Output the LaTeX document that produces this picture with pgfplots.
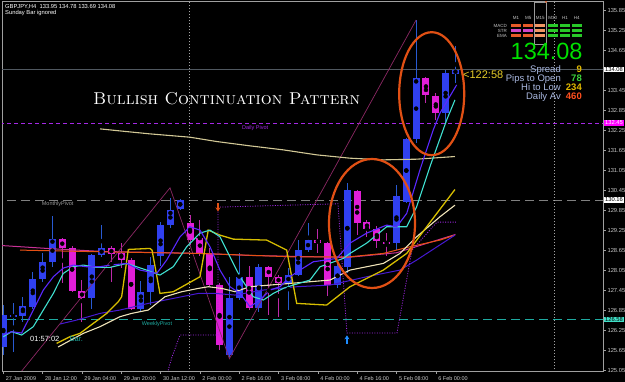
\documentclass[border=0pt]{standalone}
\usepackage{fontspec}
\usepackage{graphicx}
\usepackage{pgfplots}
\pgfplotsset{compat=1.18}
\usepackage{pgfplotstable}
\usetikzlibrary{arrows.meta}
\newfontfamily\mt{Liberation Sans}
\definecolor{bull}{RGB}{48,64,240}
\definecolor{bear}{RGB}{225,30,215}
\definecolor{bullw}{RGB}{40,90,210}
\definecolor{bearw}{RGB}{190,40,170}
\definecolor{maviolet}{RGB}{90,40,255}
\definecolor{macyan}{RGB}{64,224,208}
\definecolor{mayellow}{RGB}{215,190,0}
\definecolor{macream}{RGB}{240,228,185}
\definecolor{makhaki}{RGB}{210,200,150}
\definecolor{maindigo}{RGB}{70,25,210}
\definecolor{maorange}{RGB}{230,80,20}
\definecolor{mamag}{RGB}{200,50,150}
\definecolor{zz}{RGB}{140,40,100}
\definecolor{trail}{RGB}{160,40,230}
\definecolor{mpiv}{RGB}{128,128,128}
\definecolor{wpiv}{RGB}{30,170,160}
\definecolor{dpiv}{RGB}{165,40,230}
\definecolor{ell}{RGB}{225,80,20}
\definecolor{lab}{RGB}{170,185,225}
\definecolor{tick}{RGB}{200,200,200}
\definecolor{uparrow}{RGB}{30,140,255}
\definecolor{cOr}{RGB}{230,90,40}
\definecolor{cMg}{RGB}{210,70,200}
\definecolor{cLo}{RGB}{240,150,100}
\definecolor{cGr}{RGB}{40,200,40}
\definecolor{bigg}{RGB}{0,225,0}
\definecolor{vYel}{RGB}{225,185,0}
\definecolor{vGrn}{RGB}{60,210,60}
\definecolor{vRed}{RGB}{255,80,30}
\definecolor{timer}{RGB}{230,205,40}
\definecolor{boxmag}{RGB}{255,0,255}
\definecolor{boxteal}{RGB}{64,224,200}
\definecolor{bidline}{RGB}{80,88,96}

\pgfplotstableread{
i o h l c
0 125.75 127.01 125.51 126.71
1 126.65 127.07 125.60 126.71
2 126.68 127.25 126.50 126.98
3 126.95 128.00 126.89 127.79
4 127.79 128.57 127.70 128.30
5 128.30 129.68 128.15 128.99
9 127.22 128.54 126.89 128.51
10 128.51 129.41 128.45 128.72
14 126.89 127.73 126.80 127.40
15 127.40 128.45 127.01 128.21
16 128.48 129.50 128.18 129.41
17 129.41 130.23 129.32 129.87
18 129.90 130.20 129.87 130.17
23 125.51 127.85 125.45 127.22
24 127.22 128.57 127.16 127.85
26 126.92 128.24 126.80 128.15
29 127.67 128.12 126.86 127.91
30 127.91 128.96 127.88 128.66
31 128.66 129.47 128.60 128.96
34 127.61 128.24 127.52 128.18
35 128.15 130.68 127.97 130.47
40 128.87 130.62 128.66 130.29
41 130.11 132.03 130.07 131.99
42 131.99 135.57 131.88 133.83
45 132.78 134.07 132.48 133.98
46 133.95 134.78 133.69 134.08
}\bulltab

\pgfplotstableread{
i o h l c
6 128.99 129.02 127.67 128.72
7 128.72 128.78 127.40 127.43
8 127.43 127.76 126.50 127.22
11 128.72 128.78 127.70 128.54
12 128.57 128.87 128.12 128.36
13 128.36 128.42 126.86 126.89
19 129.47 129.72 128.81 128.96
20 129.02 129.56 128.48 128.57
21 128.57 128.72 127.55 127.61
22 127.61 127.67 125.66 125.81
25 127.85 128.18 126.86 126.92
27 128.15 128.18 126.71 127.85
28 127.85 127.91 126.65 127.67
32 128.96 129.29 128.57 128.87
33 128.87 128.90 127.28 127.61
36 130.44 130.47 129.11 129.47
37 129.50 129.56 129.05 129.29
38 129.29 129.38 128.72 128.93
39 128.90 129.17 128.48 128.86
43 133.83 133.86 133.08 133.32
44 133.29 133.38 132.57 132.78
}\beartab

\begin{document}
\begin{tikzpicture}
\fill[black] (0,0) rectangle (625pt,382pt);
\path[use as bounding box] (0,0) rectangle (625pt,382pt);
\begin{axis}[
  at={(2pt,11pt)}, anchor=south west,
  scale only axis, width=601pt, height=370pt,
  xmin=-0.132, xmax=61.01, ymin=125.03, ymax=136.14,
  axis line style={gray!75, line width=0.8pt},
  tick style={gray!75, line width=0.6pt},
  major tick length=3pt, tick align=outside,
  ytick pos=right, yticklabel pos=right, xtick pos=bottom,
  ytick={125.05,125.65,126.25,126.85,127.45,128.05,128.65,129.25,129.85,130.45,131.05,131.65,132.25,132.85,133.45,134.05,134.65,135.25,135.85},
  yticklabels={125.05,125.65,126.25,126.85,127.45,128.05,128.65,129.25,129.85,130.45,131.05,131.65,132.25,132.85,133.45,,134.65,135.25,135.85},
  yticklabel style={font=\mt\fontsize{5.8}{6}\selectfont, text=tick, anchor=west, xshift=-2pt},
  xtick={0,4,8,12,16,20,24,28,32,36,40,44},
  xticklabels={27 Jan 2009,28 Jan 12:00,29 Jan 04:00,29 Jan 20:00,30 Jan 12:00,2 Feb 00:00,2 Feb 16:00,3 Feb 08:00,4 Feb 00:00,4 Feb 16:00,5 Feb 08:00,6 Feb 00:00},
  xticklabel style={font=\mt\fontsize{5.5}{6}\selectfont, text=tick, anchor=north west, xshift=-1pt, yshift=1pt},
  clip=true,
]
% horizontal / vertical reference lines
\addplot[mpiv, line width=1.2pt, dash pattern=on 9pt off 5pt] coordinates {(-1,130.16) (62,130.16)};
\addplot[wpiv, line width=0.9pt, dash pattern=on 9pt off 5pt] coordinates {(-1,126.58) (62,126.58)};
\addplot[dpiv, line width=0.8pt, dash pattern=on 4pt off 3pt] coordinates {(-1,132.45) (62,132.45)};
\addplot[bidline, line width=0.8pt] coordinates {(-1,134.08) (62,134.08)};
\addplot[gray!70, line width=0.7pt, dash pattern=on 1pt off 2pt] coordinates {(18.92,124) (18.92,137)};
\addplot[gray!70, line width=0.7pt, dash pattern=on 1pt off 2pt] coordinates {(56.02,124) (56.02,137)};
% candles: wicks then bodies
\addplot[only marks, mark=none, error bars/.cd, y dir=both, y explicit, error mark=none,
  error bar style={line width=1pt, bullw}]
  table[x=i, y expr={(\thisrow{h}+\thisrow{l})/2}, y error expr={(\thisrow{h}-\thisrow{l})/2}] {\bulltab};
\addplot[only marks, mark=none, error bars/.cd, y dir=both, y explicit, error mark=none,
  error bar style={line width=1pt, bearw}]
  table[x=i, y expr={(\thisrow{h}+\thisrow{l})/2}, y error expr={(\thisrow{h}-\thisrow{l})/2}] {\beartab};
\addplot[only marks, mark=none, error bars/.cd, y dir=both, y explicit, error mark=none,
  error bar style={line width=7pt, bull, line cap=butt}]
  table[x=i, y expr={(\thisrow{o}+\thisrow{c})/2}, y error expr={max(abs(\thisrow{c}-\thisrow{o})/2,0.03)}] {\bulltab};
\addplot[only marks, mark=none, error bars/.cd, y dir=both, y explicit, error mark=none,
  error bar style={line width=7pt, bear, line cap=butt}]
  table[x=i, y expr={(\thisrow{o}+\thisrow{c})/2}, y error expr={max(abs(\thisrow{c}-\thisrow{o})/2,0.03)}] {\beartab};
% zigzag
\addplot[zz, line width=0.7pt] coordinates {(-1,123.98) (16.96,130.53) (23.0,125.40) (42.0,135.57)};
% long khaki MA
\addplot[makhaki, line width=1.1pt] coordinates {(9.84,132.30) (12.5,132.22) (14.92,132.15) (18.99,132.05) (21.71,131.92) (25.10,131.79) (28.48,131.67) (31.88,131.52) (35.27,131.42) (38.66,131.37) (42.05,131.39) (45.95,131.47)};
% orange & magenta long MAs
\addplot[mamag, line width=1pt] coordinates {(-0.34,128.80) (5,128.70) (10,128.62) (20,128.56) (25,128.50) (35,128.44) (40,128.58) (46,129.13)};
\addplot[maorange, line width=1pt] coordinates {(1.70,128.66) (4.75,128.64) (9.84,128.61) (20.01,128.56) (29.17,128.46) (35.27,128.46) (38.66,128.56) (41.37,128.76) (44.42,128.96) (45.95,129.11)};
% indigo slow MA
\addplot[maindigo, line width=1pt] coordinates {(5.77,126.44) (7.47,126.56) (9.84,126.76) (11.87,126.86) (14.75,127.06) (18.15,127.26) (19.84,127.36) (21.54,127.36) (23.57,127.31) (26.45,127.46) (29.85,127.56) (33.23,127.61) (36.97,127.86) (40.36,128.06) (42.05,128.36) (45.95,129.11)};
% cream MA
\addplot[macream, line width=1.1pt] coordinates {(5.57,125.75) (8.14,126.16) (9.84,126.36) (11.87,126.66) (13.06,126.76) (14.75,126.86) (16.45,127.26) (18.15,127.41) (19.84,127.51) (20.85,127.56) (22.22,127.51) (23.57,127.41) (25.10,127.56) (27.13,127.61) (29.17,127.66) (31.20,127.71) (33.23,127.76) (35.27,128.06) (38.66,128.26) (40.36,128.56) (42.05,129.06) (44.42,129.66) (45.95,130.01)};
% yellow
\addplot[mayellow, line width=1.3pt] coordinates {(5.43,125.86) (6.79,126.06) (7.80,126.16) (9.16,126.46) (10.52,126.76) (11.70,127.11) (12.04,127.26) (12.72,128.68) (14.92,128.71) (15.13,128.66) (15.94,127.36) (17.29,127.41) (20.01,127.86) (20.85,129.26) (22.04,129.11) (23.40,128.99) (26.80,128.96) (28.83,128.66) (29.85,127.06) (32.90,127.01) (35.27,127.56) (38.66,128.06) (41.04,128.56) (43.07,129.36) (45.95,130.48)};
% cyan
\addplot[macyan, line width=1.1pt] coordinates {(0,126.06) (0.85,126.21) (1.87,126.11) (3.05,126.36) (4.07,126.86) (5.09,127.36) (6.10,127.96) (7.12,128.16) (8.14,128.21) (9.50,128.14) (10.85,128.14) (12.55,128.26) (14.59,128.06) (15.94,127.91) (17.29,128.16) (18.66,128.76) (20.01,129.17) (21.03,129.26) (22.04,129.06) (23.06,128.46) (24.08,127.86) (25.43,127.26) (26.45,127.16) (27.47,127.36) (28.48,127.51) (29.50,127.61) (31.20,127.76) (32.22,128.16) (34.59,128.41) (35.27,128.56) (36.97,128.87) (39.00,129.36) (41.04,129.36) (42.05,129.96) (43.41,131.17) (45.11,132.57) (45.95,133.17)};
% blue-violet fast MA
\addplot[maviolet, line width=1.1pt] coordinates {(0,126.11) (0.85,126.21) (1.87,126.17) (3.05,126.86) (4.07,127.46) (5.09,127.86) (6.10,128.12) (7.12,128.21) (8.48,128.16) (9.84,128.16) (10.85,128.21) (12.55,128.26) (13.91,128.06) (15.61,127.96) (16.62,128.36) (17.98,129.06) (18.99,129.36) (20.01,129.26) (21.03,128.76) (22.04,128.06) (23.06,127.56) (24.08,127.36) (25.10,126.96) (26.11,127.16) (27.13,127.46) (28.15,127.56) (29.17,127.86) (30.18,128.06) (31.54,128.31) (33.92,128.41) (35.27,128.87) (36.97,129.17) (39.00,129.41) (40.02,129.36) (41.04,129.76) (42.39,131.07) (43.74,132.27) (44.42,132.77) (46.12,133.62)};
% trailing stop (dotted)
\addplot[trail, line width=0.8pt, dash pattern=on 1pt off 1.5pt] coordinates {(16.7,124.98) (17.16,125.45) (17.98,126.11) (21.84,126.11) (21.84,129.95) (34.05,130.05) (34.96,126.17) (40.05,126.17) (41.58,128.66) (44.12,129.50) (46.05,129.50)};
% signal arrows
\addplot[ell, line width=1.3pt, -{Stealth[length=4pt,width=5pt]}, quiver={u=0,v=-0.25}] coordinates {(21.84,130.07)};
\addplot[uparrow, line width=1.3pt, -{Stealth[length=4pt,width=5pt]}, quiver={u=0,v=0.25}] coordinates {(34.96,125.85)};
\end{axis}

\begin{scope}[x=1pt, y=-1pt, shift={(0,382pt)}]
% ellipses
\draw[ell, line width=2.2pt] (372,223.5) ellipse [x radius=43, y radius=64.5];
\draw[ell, line width=2.2pt] (431.7,93.7) ellipse [x radius=32.5, y radius=61.5];
% header texts
\node[anchor=base west, inner sep=0, text=white, font=\mt\fontsize{5.8}{6}\selectfont] at (5,8.3) {GBPJPY,H4\ \ 133.95 134.78 133.69 134.08};
\node[anchor=base west, inner sep=0, text=white, font=\mt\fontsize{5.8}{6}\selectfont] at (5,15) {Sunday Bar ignored};
\node[anchor=base west, inner sep=0, text=white] at (93,105) {\resizebox{267pt}{!}{\scshape Bullish Continuation Pattern}};
% pivot labels
\node[anchor=base west, inner sep=0, text=dpiv, font=\mt\fontsize{5.5}{6}\selectfont] at (242,129.3) {Daily Pivot};
\node[anchor=base west, inner sep=0, text=gray!80!white, font=\mt\fontsize{5.5}{6}\selectfont] at (41.7,206) {MonthlyPivot};
\node[anchor=base west, inner sep=0, text=wpiv, font=\mt\fontsize{5.5}{6}\selectfont] at (141.7,326) {WeeklyPivot};
\node[anchor=base west, inner sep=0, text=white, font=\mt\fontsize{7.5}{8}\selectfont] at (30,342) {01:57:02};
\node[anchor=base west, inner sep=0, text=wpiv, font=\mt\fontsize{7.5}{8}\selectfont] at (69.5,342) {Bar.};
% MTF panel
\draw[gray!80, line width=0.6pt] (534.3,2.7) rectangle (546,44);
\fill[ell] (546,2) circle (1);
\foreach \lbl/\xx in {M1/516,M5/528.3,M15/540.3,M30/552.7,H1/565,H4/576.7}
  \node[inner sep=0, text=tick, font=\mt\fontsize{4.5}{5}\selectfont] at (\xx,18.3) {\lbl};
\node[anchor=east, inner sep=0, text=tick, font=\mt\fontsize{4.5}{5}\selectfont] at (507,25.8) {MACD};
\node[anchor=east, inner sep=0, text=tick, font=\mt\fontsize{4.5}{5}\selectfont] at (507,30.9) {STR};
\node[anchor=east, inner sep=0, text=tick, font=\mt\fontsize{4.5}{5}\selectfont] at (507,36) {EMA};
\foreach \xx in {511,523.3}{
  \fill[cOr] (\xx,24.3) rectangle ++(10,3);
  \fill[cMg] (\xx,29.4) rectangle ++(10,3);
  \fill[cOr] (\xx,34.5) rectangle ++(10,3);}
\foreach \yy in {24.3,29.4,34.5}
  \fill[cLo] (535.3,\yy) rectangle ++(10,3);
\foreach \xx in {547.7,560,571.7}{
  \foreach \yy in {24.3,29.4,34.5}
    \fill[cGr] (\xx,\yy) rectangle ++(10,3);}
% big price & info
\node[anchor=base west, inner sep=0, text=bigg, font=\mt\fontsize{23.5}{24}\selectfont] at (510.5,59.3) {134.08};
\node[anchor=base east, inner sep=0, text=lab, font=\mt\fontsize{9.5}{10}\selectfont] at (561,72.7) {Spread};
\node[anchor=base east, inner sep=0, text=lab, font=\mt\fontsize{9.5}{10}\selectfont] at (561,81.7) {Pips to Open};
\node[anchor=base east, inner sep=0, text=lab, font=\mt\fontsize{9.5}{10}\selectfont] at (561,90.7) {Hi to Low};
\node[anchor=base east, inner sep=0, text=lab, font=\mt\fontsize{9.5}{10}\selectfont] at (561,99.5) {Daily Av};
\node[anchor=base east, inner sep=0, text=vYel, font=\mt\bfseries\fontsize{9.5}{10}\selectfont] at (582,72.7) {9};
\node[anchor=base east, inner sep=0, text=vGrn, font=\mt\bfseries\fontsize{9.5}{10}\selectfont] at (582,81.7) {78};
\node[anchor=base east, inner sep=0, text=vYel, font=\mt\bfseries\fontsize{9.5}{10}\selectfont] at (582,90.7) {234};
\node[anchor=base east, inner sep=0, text=vRed, font=\mt\bfseries\fontsize{9.5}{10}\selectfont] at (582,99.5) {460};
\node[anchor=base west, inner sep=0, text=timer, font=\mt\fontsize{11}{12}\selectfont] at (463,78.3) {<122:58};
% right axis price boxes
\node[anchor=west, fill=white, text=black, inner xsep=1pt, inner ysep=0.8pt, font=\mt\fontsize{5.8}{6}\selectfont] at (604,69.6) {134.08};
\node[anchor=west, fill=boxmag, text=white, inner xsep=1pt, inner ysep=0.8pt, font=\mt\fontsize{5.8}{6}\selectfont] at (604,123) {132.45};
\node[anchor=west, fill=white, text=black, inner xsep=1pt, inner ysep=0.8pt, font=\mt\fontsize{5.8}{6}\selectfont] at (604,200) {130.16};
\node[anchor=west, fill=boxteal, text=black, inner xsep=1pt, inner ysep=0.8pt, font=\mt\fontsize{5.8}{6}\selectfont] at (604,319.4) {126.58};
\end{scope}
\end{tikzpicture}
\end{document}
